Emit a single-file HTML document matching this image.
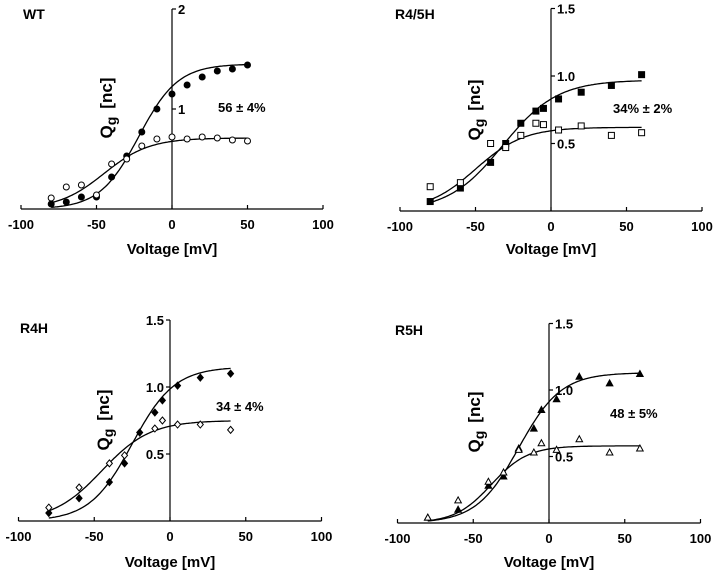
<!DOCTYPE html>
<html><head><meta charset="utf-8"><style>
body{margin:0;background:#fff;width:720px;height:578px;overflow:hidden}
svg text{font-family:"Liberation Sans",Arial,sans-serif;font-weight:bold;fill:#000}
</style></head><body>
<svg id="fig" width="720" height="578" viewBox="0 0 720 578" xmlns="http://www.w3.org/2000/svg"></svg>
<script>
// ---- data (voltage mV, charge nC) ----
const wtV = [-80,-70,-60,-50,-40,-30,-20,-10,0,10,20,30,40,50];
const wtFilled = [0.05,0.07,0.12,0.12,0.32,0.53,0.77,1.0,1.15,1.24,1.32,1.38,1.40,1.44];
const wtOpen = [0.11,0.22,0.24,0.14,0.45,0.50,0.63,0.70,0.72,0.70,0.72,0.71,0.69,0.68];
const r45V = [-80,-60,-40,-30,-20,-10,-5,5,20,40,60];
const r45Filled = [0.07,0.17,0.36,0.50,0.65,0.74,0.76,0.83,0.88,0.93,1.01];
const r45Open = [0.18,0.21,0.50,0.47,0.56,0.65,0.64,0.60,0.63,0.56,0.58];
const r4V = [-80,-60,-40,-30,-20,-10,-5,5,20,40];
const r4Filled = [0.06,0.17,0.29,0.43,0.66,0.81,0.90,1.01,1.07,1.10];
const r4OpenV = [-80,-60,-40,-30,-10,-5,5,20,40];
const r4Open = [0.10,0.25,0.43,0.49,0.69,0.75,0.72,0.72,0.68];
const r5V = [-80,-60,-40,-30,-20,-10,-5,5,20,40,60];
const r5Filled = [0.04,0.10,0.28,0.35,0.56,0.71,0.85,0.93,1.10,1.05,1.12];
const r5Open = [0.04,0.17,0.31,0.38,0.55,0.53,0.60,0.55,0.63,0.53,0.56];
// Boltzmann fit params: [Qmax, Vhalf, k]
const wtFitF = [1.45,-22,13], wtFitO = [0.71,-45,15];
const r45FitF = [0.97,-32,18], r45FitO = [0.62,-50,16];
const r4FitF = [1.15,-25,14], r4FitO = [0.75,-45,16];
const r5FitF = [1.13,-20,14], r5FitO = [0.58,-38,12];
const xTicks = [-100,-50,0,50,100];

const NS="http://www.w3.org/2000/svg";
const svg=document.getElementById('fig');
function mk(tag,attrs,parent,text){const e=document.createElementNS(NS,tag);for(const k in attrs)e.setAttribute(k,attrs[k]);if(text!==undefined)e.textContent=text;(parent||svg).appendChild(e);return e;}

function panel(p){
  const g=mk('g',{});
  
  
  const X=v=>p.x0+v*p.sx, Y=q=>p.y0-q*p.sy;
  const xa=mk('line',{x1:X(-100),y1:p.y0,x2:X(100),y2:p.y0,stroke:'#000','stroke-width':1.2},g);
  
  
  xTicks.forEach(t=>{
    mk('line',{x1:X(t),y1:p.y0,x2:X(t),y2:p.y0-4,stroke:'#000','stroke-width':1.2},g);
    const tl=mk('text',{x:X(t),y:p.y0+20,'text-anchor':'middle','font-size':13},g,String(t));
    
    
  });
  const xl=mk('text',{x:X(0),y:p.xly,'text-anchor':'middle','font-size':15},g,'Voltage [mV]');
  
  
  const top=p.yTicks[p.yTicks.length-1];
  const ya=mk('line',{x1:X(0),y1:p.y0,x2:X(0),y2:Y(top),stroke:'#000','stroke-width':1.2},g);
  
  
  p.yTicks.forEach((t,i)=>{
    const d=p.left?-4:4;
    mk('line',{x1:X(0),y1:Y(t),x2:X(0)+d,y2:Y(t),stroke:'#000','stroke-width':1.2},g);
    const yl=mk('text',{x:X(0)+(p.left?-6:6),y:Y(t)+5,'text-anchor':p.left?'end':'start','font-size':13},g,p.yLabels[i]);
    
    
  });
  const ql=mk('text',{x:0,y:0,'font-size':17,transform:`translate(${p.qx},${p.qy}) rotate(-90)`,'text-anchor':'middle'},g);
  
  
  mk('tspan',{},ql,'Q');
  mk('tspan',{dy:4,'font-size':14},ql,'g');
  mk('tspan',{dy:-4,dx:8},ql,'[nc]');
  const tt=mk('text',{x:p.tx,y:p.ty,'font-size':14},g,p.title);
  
  
  const an=mk('text',{x:p.ax,y:p.ay,'font-size':13},g,p.annot);
  
  
  [p.fitF,p.fitO].forEach((f,fi)=>{
    let d='';
    for(let v=-80;v<=p.fitEnd;v+=1){const q=f[0]/(1+Math.exp((f[1]-v)/f[2]));d+=(v==-80?'M':'L')+X(v).toFixed(1)+','+Y(q).toFixed(1);}
    const pth=mk('path',{d:d,fill:'none',stroke:'#000','stroke-width':1.3},g);
    
    
  });
  function marker(cx,cy,filled){
    const fill=filled?'#000':'#fff';let e;
    if(p.shape=='circle')e=mk('circle',{cx:cx,cy:cy,r:3,fill:fill,stroke:'#000','stroke-width':1},g);
    else if(p.shape=='square')e=mk('rect',{x:cx-3,y:cy-3,width:6,height:6,fill:fill,stroke:'#000','stroke-width':1},g);
    else if(p.shape=='diamond')e=mk('path',{d:`M${cx},${cy-3.5}L${cx+3},${cy}L${cx},${cy+3.5}L${cx-3},${cy}Z`,fill:fill,stroke:'#000','stroke-width':1},g);
    else e=mk('path',{d:`M${cx},${cy-3.5}L${cx+3.3},${cy+2.5}L${cx-3.3},${cy+2.5}Z`,fill:fill,stroke:'#000','stroke-width':1},g);
    return e;
  }
  p.vF.forEach((v,i)=>{const m=marker(X(v),Y(p.qF[i]),true);
    
    });
  p.vO.forEach((v,i)=>{const m=marker(X(v),Y(p.qO[i]),false);
    
    });
}

panel({name:'wt',x0:172,sx:1.51,y0:209,sy:100,yTicks:[1,2],yLabels:['1','2'],left:false,
  qx:112,qy:108,tx:23,ty:19,title:'WT',ax:218,ay:112,annot:'56 ± 4%',xly:254,
  vF:wtV,qF:wtFilled,vO:wtV,qO:wtOpen,fitF:wtFitF,fitO:wtFitO,fitEnd:50,shape:'circle'});
panel({name:'r4-5h',x0:551,sx:1.51,y0:211,sy:135,yTicks:[0.5,1.0,1.5],yLabels:['0.5','1.0','1.5'],left:false,
  qx:480,qy:110,tx:395,ty:19,title:'R4/5H',ax:613,ay:113,annot:'34% ± 2%',xly:254,
  vF:r45V,qF:r45Filled,vO:r45V,qO:r45Open,fitF:r45FitF,fitO:r45FitO,fitEnd:60,shape:'square'});
panel({name:'r4h',x0:170,sx:1.515,y0:521,sy:134,yTicks:[0.5,1.0,1.5],yLabels:['0.5','1.0','1.5'],left:true,
  qx:109,qy:420,tx:20,ty:333,title:'R4H',ax:216,ay:411,annot:'34 ± 4%',xly:567,
  vF:r4V,qF:r4Filled,vO:r4OpenV,qO:r4Open,fitF:r4FitF,fitO:r4FitO,fitEnd:40,shape:'diamond'});
panel({name:'r5h',x0:549,sx:1.515,y0:523,sy:133,yTicks:[0.5,1.0,1.5],yLabels:['0.5','1.0','1.5'],left:false,
  qx:480,qy:422,tx:395,ty:335,title:'R5H',ax:610,ay:418,annot:'48 ± 5%',xly:567,
  vF:r5V,qF:r5Filled,vO:r5V,qO:r5Open,fitF:r5FitF,fitO:r5FitO,fitEnd:60,shape:'triangle'});
</script>
</body></html>
